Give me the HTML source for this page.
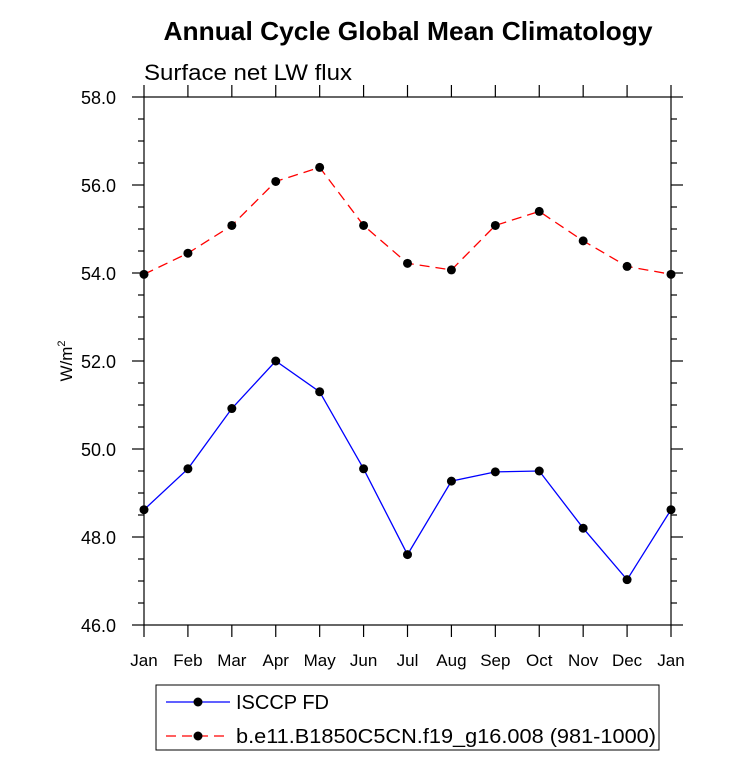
<!DOCTYPE html>
<html><head><meta charset="utf-8"><style>
body{margin:0;background:#fff;}
svg text{font-family:"Liberation Sans",Arial,sans-serif;}
</style></head><body>
<svg id="chart" width="733" height="777" viewBox="0 0 733 777" xmlns="http://www.w3.org/2000/svg">
<text x="408" y="40" text-anchor="middle" font-size="26" font-weight="bold" textLength="489" lengthAdjust="spacingAndGlyphs">Annual Cycle Global Mean Climatology</text>
<text x="144" y="80" font-size="22" textLength="208" lengthAdjust="spacingAndGlyphs">Surface net LW flux</text>
<text transform="translate(72,361) rotate(-90)" text-anchor="middle" font-size="17">W/m<tspan dy="-7" font-size="11">2</tspan></text>
<g id="axes"></g>
<g id="series"></g>
<g>
<rect x="156" y="685" width="503" height="65" fill="none" stroke="#000" stroke-width="1"/>
<g>
<line x1="166" y1="702" x2="230" y2="702" stroke="#0000ff" stroke-width="1.3"/>
<circle cx="198" cy="702" r="4.5" fill="#000"/>
<text x="236" y="709" font-size="20">ISCCP FD</text>
</g>
<g>
<line x1="166" y1="736" x2="230" y2="736" stroke="#ff0000" stroke-width="1.3" stroke-dasharray="10,6"/>
<circle cx="198" cy="736" r="4.5" fill="#000"/>
<text x="236" y="743" font-size="20" textLength="420" lengthAdjust="spacingAndGlyphs">b.e11.B1850C5CN.f19_g16.008 (981-1000)</text>
</g>
</g>
</svg>
<script>
const months=["Jan","Feb","Mar","Apr","May","Jun","Jul","Aug","Sep","Oct","Nov","Dec","Jan"];
const isccpValues=[48.62,49.55,50.92,52.0,51.3,49.55,47.6,49.27,49.48,49.5,48.2,47.03,48.62];
const modelValues=[53.97,54.45,55.08,56.08,56.4,55.08,54.22,54.07,55.08,55.4,54.73,54.15,53.97];
const yTicks=[46,48,50,52,54,56,58];
const X0=144,X1=671,Y0=625,Y1=97,YMIN=46,YMAX=58;
const xs=i=>X0+(X1-X0)*i/(months.length-1);
const ys=v=>Y0-(v-YMIN)/(YMAX-YMIN)*(Y0-Y1);
const NS="http://www.w3.org/2000/svg";
const axes=document.getElementById('axes'),ser=document.getElementById('series');
function mk(tag,attrs,parent){const e=document.createElementNS(NS,tag);for(const k in attrs)e.setAttribute(k,attrs[k]);parent.appendChild(e);return e;}
const frame=mk('rect',{x:X0,y:Y1,width:X1-X0,height:Y0-Y1,fill:'none',stroke:'#000','stroke-width':1.2},axes);


months.forEach((m,i)=>{
  const x=xs(i);
  const t=mk('line',{x1:x,y1:Y0,x2:x,y2:Y0+12,stroke:'#000','stroke-width':1.2},axes);
  
  
  mk('line',{x1:x,y1:Y1,x2:x,y2:Y1-12,stroke:'#000','stroke-width':1.2},axes);
  const l=mk('text',{x:x,y:Y0+41,'text-anchor':'middle','font-size':17},axes);
  l.textContent=m;
  
  
});
for(let v=YMIN;v<=YMAX+1e-9;v+=0.5){
  const y=ys(v);const major=Math.abs(v/2-Math.round(v/2))<1e-9;const len=major?12:6;
  mk('line',{x1:X0,y1:y,x2:X0-len,y2:y,stroke:'#000','stroke-width':1.2},axes);
  mk('line',{x1:X1,y1:y,x2:X1+len,y2:y,stroke:'#000','stroke-width':1.2},axes);
}
yTicks.forEach(v=>{
  const l=mk('text',{x:X0-28,y:ys(v)+7,'text-anchor':'end','font-size':18},axes);
  l.textContent=v.toFixed(1);
  
  
});
function drawSeries(vals,color,dash,name){
  const p=mk('polyline',{points:vals.map((v,i)=>xs(i)+','+ys(v)).join(' '),fill:'none',stroke:color,'stroke-width':1.3,'stroke-dasharray':dash},ser);
  
  
  vals.forEach((v,i)=>{
    const c=mk('circle',{cx:xs(i),cy:ys(v),r:4.5,fill:'#000'},ser);
    
    
  });
}
drawSeries(isccpValues,'#0000ff','none','isccp');
drawSeries(modelValues,'#ff0000','10,6','model');
</script>
</body></html>
